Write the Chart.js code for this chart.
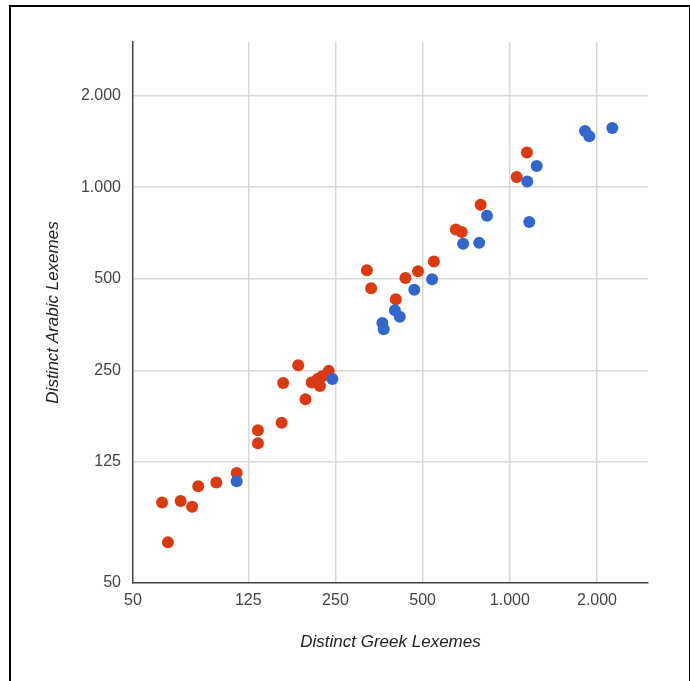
<!DOCTYPE html>
<html>
<head>
<meta charset="utf-8">
<script src="https://cdn.jsdelivr.net/npm/chart.js@4"></script>
<style>
  body { margin: 0; background: #fff; overflow: hidden; }
  #frame {
    position: absolute; left: 9px; top: 5px; width: 678px; height: 700px;
    border: 2px solid #000; border-bottom: none; pointer-events: none;
  }
  canvas { position: absolute; left: 0; top: 0; }
</style>
</head>
<body>
<canvas id="chart" width="690" height="681"></canvas>
<div id="frame"></div>
<script>
// Greek vs Arabic distinct lexemes (log-log)
const tickValues = [50, 125, 250, 500, 1000, 2000];

const blueX = [114, 244, 363, 367, 401, 417, 468, 539, 690, 784, 834, 1149, 1167, 1238, 1818, 1881, 2259];
const blueY = [108, 234, 358, 341, 394, 375, 460, 498, 652, 656, 805, 1043, 768, 1173, 1529, 1469, 1564];

const redX = [63, 73, 80, 84, 97, 114, 66, 135, 135, 163, 165, 186, 197, 207, 217, 221, 225, 237, 321, 332, 404, 436, 482, 547, 651, 682, 793, 1056, 1146];
const redY = [92, 93, 89, 104, 107, 115, 68, 159, 144, 168, 227, 260, 201, 228, 234, 222, 239, 249, 533, 465, 428, 503, 529, 570, 726, 712, 875, 1080, 1299];

const toPoints = (xs, ys) => xs.map((x, i) => ({ x: x, y: ys[i] }));

// 1000 -> "1.000"
const fmt = v => String(v).replace(/\B(?=(\d{3})+(?!\d))/g, ".");

Chart.defaults.font.family = "Arial, 'Liberation Sans', sans-serif";
Chart.defaults.font.size = 16;

const gridColor = ctx => (ctx.tick && ctx.tick.value === 50 ? "rgba(0,0,0,0)" : "#d9d9d9");

new Chart(document.getElementById("chart"), {
  type: "scatter",
  data: {
    datasets: [
      {
        data: toPoints(blueX, blueY),
        backgroundColor: "#3366cc",
        borderWidth: 0,
        pointRadius: 6,
      },
      {
        data: toPoints(redX, redY),
        backgroundColor: "#dc3912",
        borderWidth: 0,
        pointRadius: 6,
      },
    ],
  },
  options: {
    responsive: false,
    animation: false,
    devicePixelRatio: 1,
    layout: { padding: { left: 43, top: 42, right: 42, bottom: 29 } },
    plugins: { legend: { display: false }, tooltip: { enabled: false } },
    scales: {
      x: {
        type: "logarithmic",
        min: 50,
        max: 3000,
        afterBuildTicks: scale => { scale.ticks = tickValues.map(v => ({ value: v })); },
        afterFit: scale => { scale.height = 69; },
        grid: { color: gridColor, lineWidth: 1.5, drawTicks: false },
        border: { display: true, color: "#444", width: 1.5 },
        ticks: { color: "#444", padding: 8, maxRotation: 0, autoSkip: false, callback: v => fmt(v) },
        title: {
          display: true,
          text: "Distinct Greek Lexemes",
          color: "#222",
          font: { style: "italic", size: 17 },
          padding: 0,
        },
      },
      y: {
        type: "logarithmic",
        min: 50,
        max: 3000,
        afterBuildTicks: scale => { scale.ticks = tickValues.map(v => ({ value: v })); },
        afterFit: scale => { scale.width = 90; },
        grid: { color: gridColor, lineWidth: 1.5, drawTicks: false },
        border: { display: true, color: "#444", width: 1.5 },
        ticks: { color: "#444", padding: 12, autoSkip: false, callback: v => fmt(v) },
        title: {
          display: true,
          text: "Distinct Arabic Lexemes",
          color: "#222",
          font: { style: "italic", size: 17 },
          padding: 0,
        },
      },
    },
  },
});
</script>
</body>
</html>
